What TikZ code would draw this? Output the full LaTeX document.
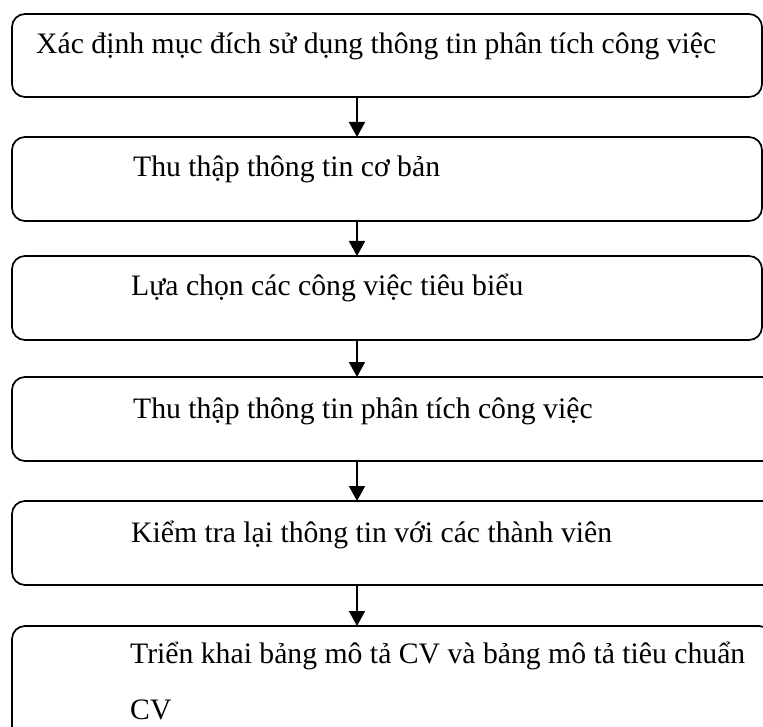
\documentclass[tikz,border=0pt]{standalone}
\usepackage{fontspec}
\setmainfont{Liberation Serif}
\usetikzlibrary{arrows.meta}
\begin{document}
\begin{tikzpicture}[x=1pt,y=-1pt,
  stepbox/.style={draw, line width=1.7pt, rounded corners=13pt, inner sep=0pt,
    outer sep=0pt, anchor=north west},
  steplabel/.style={inner sep=0pt, anchor=base west,
    font=\fontsize{29.7}{56}\selectfont},
  flow/.style={line width=1.7pt, -{Triangle[width=16pt,length=15pt]}}]
  \useasboundingbox (0,0) rectangle (763,727);
  \clip (0,0) rectangle (763,727);

  % process boxes (the lower ones run past the right and bottom edges)
  \node[stepbox, minimum width=750pt, minimum height=83pt] (b1) at (12,14) {};
  \node[stepbox, minimum width=750pt, minimum height=84pt] (b2) at (12,137) {};
  \node[stepbox, minimum width=750pt, minimum height=84pt] (b3) at (12,256) {};
  \node[stepbox, minimum width=788pt, minimum height=84pt] (b4) at (12,377) {};
  \node[stepbox, minimum width=788pt, minimum height=84pt] (b5) at (12,501) {};
  \node[stepbox, minimum width=760pt, minimum height=120pt] (b6) at (12,626) {};

  % step texts (the two-line one is placed by the baseline of its last line)
  \node[steplabel] (t1) at (36,54) {Xác định mục đích sử dụng thông tin phân tích công việc};
  \node[steplabel] (t2) at (133,177) {Thu thập thông tin cơ bản};
  \node[steplabel] (t3) at (131,296) {Lựa chọn các công việc tiêu biểu};
  \node[steplabel] (t4) at (133,418) {Thu thập thông tin phân tích công việc};
  \node[steplabel] (t5) at (131,542) {Kiểm tra lại thông tin với các thành viên};
  \node[steplabel, align=left] (t6) at (130,719)
    {Triển khai bảng mô tả CV và bảng mô tả tiêu chuẩn\\CV};

  % connectors
  \coordinate (ax) at (357,0);
  \draw[flow] (b1.south -| ax) -- (b2.north -| ax);
  \draw[flow] (b2.south -| ax) -- (b3.north -| ax);
  \draw[flow] (b3.south -| ax) -- (b4.north -| ax);
  \draw[flow] (b4.south -| ax) -- (b5.north -| ax);
  \draw[flow] (b5.south -| ax) -- (b6.north -| ax);
\end{tikzpicture}
\end{document}
